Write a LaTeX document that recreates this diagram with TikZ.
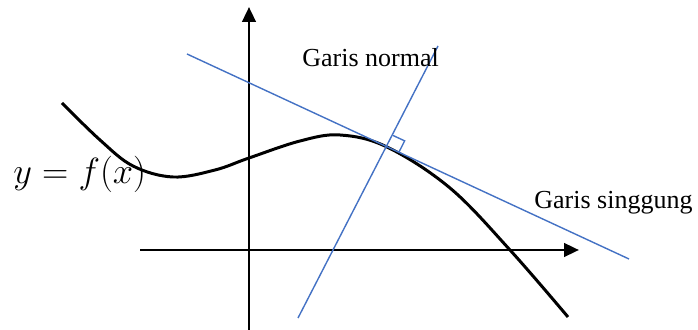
\documentclass[tikz,border=0pt]{standalone}
\usepackage{fontspec}
\setmainfont{Liberation Serif}
\usetikzlibrary{arrows.meta, calc}
\definecolor{lineblue}{RGB}{68, 114, 196}

\begin{document}
\begin{tikzpicture}[x=0.02cm, y=-0.02cm,
    axis/.style={line width=1.6pt, -{Triangle[length=0.3cm, width=0.27cm]}},
    curve/.style={line width=1.7pt, line join=round},
    guide/.style={lineblue, line width=0.8pt},
    label/.style={font=\fontsize{14.8}{17}\selectfont, anchor=base west, inner sep=0pt}]

        \useasboundingbox (0,0) rectangle (698,330);

        % Axes
        \coordinate (ybot) at (249,330);
        \coordinate (ytop) at (249,7);
        \coordinate (xleft) at (140,250);
        \coordinate (xright) at (579,250);
        \draw[axis] (ybot) -- (ytop);
        \draw[axis] (xleft) -- (xright);

        % Curve
        \draw[curve] plot[smooth, tension=0.6] coordinates {
            (62,103) (100,140) (133,166) (173,177) (215,170) (249,158)
            (300,141) (340,135) (387,147) (450,188) (510,250) (568,317)};
        \node[anchor=base west, inner sep=0pt, font=\fontsize{19.5}{22}\selectfont]
            (fx) at (13,184) {$y = f(x)$};

        % Tangent and normal
        \coordinate (T) at (387,147);
        \coordinate (tanL) at (187,54);
        \coordinate (tanR) at (629,259);
        \coordinate (norB) at (298,318);
        \coordinate (norT) at (438,46);
        \draw[guide] (tanL) -- (tanR);
        \draw[guide] (norB) -- (norT);
        \coordinate (ra1) at ($(T)!0.26cm!(norT)$);
        \coordinate (ra2) at ($(T)!0.26cm!(tanR)$);
        \draw[guide] (ra1) -- ($(ra1)+(ra2)-(T)$) -- (ra2);

        % Labels
        \node[label] (normal) at (302,67) {Garis normal};
        \node[label] (singgung) at (534,209) {Garis singgung};

    \end{tikzpicture}
\end{document}
